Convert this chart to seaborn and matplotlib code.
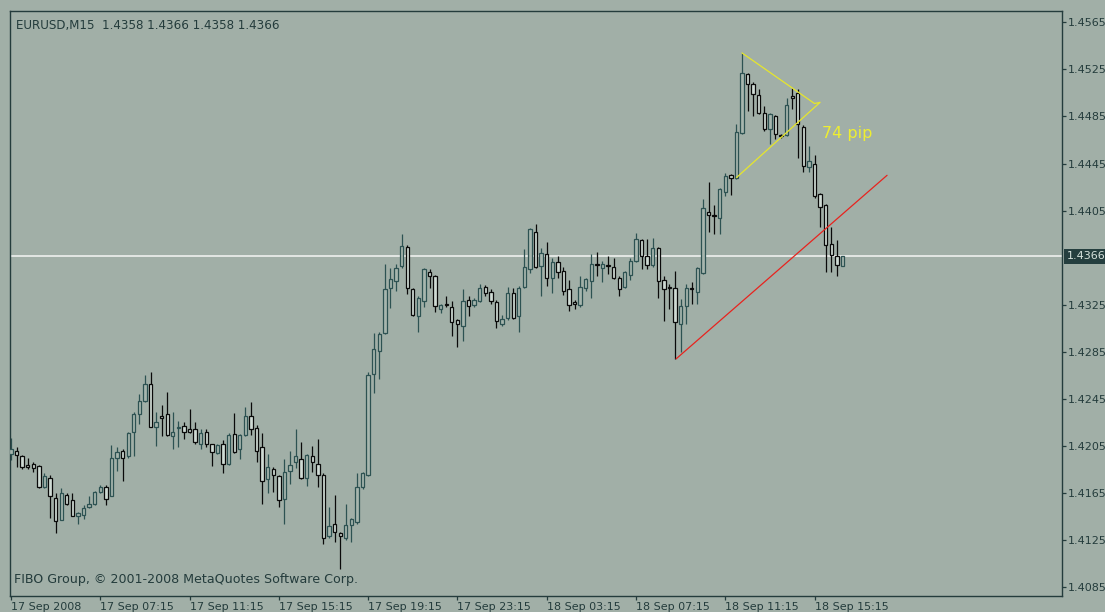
import numpy as np
import pandas as pd
import matplotlib
matplotlib.use("Agg")
import matplotlib.pyplot as plt
import matplotlib.transforms as mtransforms
import seaborn as sns

# EURUSD M15, 17 Sep 2008 03:15 -> 18 Sep 2008 16:30
header_text = "EURUSD,M15  1.4358 1.4366 1.4358 1.4366"
footer_text = "FIBO Group, \u00a9 2001-2008 MetaQuotes Software Corp."

opens = [
    1.4198, 1.4201, 1.4196, 1.4189, 1.4190, 1.4188, 1.4170, 1.4178, 1.4161, 1.4142,
    1.4163, 1.4159, 1.4145, 1.4146, 1.4153, 1.4156, 1.4166, 1.4170, 1.4162, 1.4195,
    1.4201, 1.4196, 1.4217, 1.4232, 1.4243, 1.4258, 1.4221, 1.4230, 1.4232, 1.4213,
    1.4220, 1.4222, 1.4219, 1.4219, 1.4207, 1.4217, 1.4207, 1.4199, 1.4207, 1.4190,
    1.4215, 1.4202, 1.4214, 1.4230, 1.4220, 1.4204, 1.4177, 1.4185, 1.4179, 1.4160,
    1.4184, 1.4191, 1.4194, 1.4178, 1.4196, 1.4190, 1.4180, 1.4128, 1.4139, 1.4131,
    1.4127, 1.4138, 1.4140, 1.4170, 1.4180, 1.4266, 1.4286, 1.4301, 1.4339, 1.4345,
    1.4358, 1.4374, 1.4338, 1.4315, 1.4328, 1.4353, 1.4349, 1.4321, 1.4326, 1.4323,
    1.4312, 1.4307, 1.4329, 1.4325, 1.4328, 1.4340, 1.4336, 1.4327, 1.4309, 1.4314,
    1.4335, 1.4315, 1.4340, 1.4355, 1.4387, 1.4358, 1.4368, 1.4348, 1.4361, 1.4354,
    1.4338, 1.4327, 1.4325, 1.4339, 1.4345, 1.4360, 1.4356, 1.4359, 1.4357, 1.4348,
    1.4340, 1.4350, 1.4362, 1.4380, 1.4366, 1.4359, 1.4373, 1.4346, 1.4340, 1.4339,
    1.4309, 1.4324, 1.4339, 1.4336, 1.4352, 1.4404, 1.4401, 1.4399, 1.4421, 1.4435,
    1.4433, 1.4471, 1.4521, 1.4513, 1.4503, 1.4488, 1.4474, 1.4485, 1.4469, 1.4469,
    1.4502, 1.4505, 1.4476, 1.4442, 1.4445, 1.4419, 1.4410, 1.4377, 1.4366, 1.4358,
]
highs = [
    1.4212, 1.4204, 1.4197, 1.4195, 1.4191, 1.4189, 1.4182, 1.4180, 1.4165, 1.4169,
    1.4165, 1.4165, 1.4149, 1.4155, 1.4162, 1.4167, 1.4172, 1.4172, 1.4206, 1.4204,
    1.4202, 1.4217, 1.4234, 1.4249, 1.4265, 1.4268, 1.4234, 1.4240, 1.4251, 1.4234,
    1.4226, 1.4225, 1.4236, 1.4225, 1.4219, 1.4219, 1.4207, 1.4207, 1.4210, 1.4216,
    1.4233, 1.4215, 1.4238, 1.4242, 1.4223, 1.4216, 1.4198, 1.4187, 1.4180, 1.4194,
    1.4201, 1.4219, 1.4208, 1.4198, 1.4205, 1.4211, 1.4182, 1.4153, 1.4163, 1.4132,
    1.4156, 1.4144, 1.4182, 1.4183, 1.4268, 1.4301, 1.4302, 1.4360, 1.4356, 1.4360,
    1.4385, 1.4376, 1.4339, 1.4332, 1.4356, 1.4355, 1.4350, 1.4326, 1.4332, 1.4328,
    1.4313, 1.4338, 1.4332, 1.4331, 1.4343, 1.4342, 1.4338, 1.4329, 1.4316, 1.4340,
    1.4339, 1.4341, 1.4372, 1.4390, 1.4394, 1.4373, 1.4378, 1.4365, 1.4366, 1.4357,
    1.4346, 1.4329, 1.4349, 1.4348, 1.4368, 1.4370, 1.4362, 1.4366, 1.4365, 1.4349,
    1.4354, 1.4365, 1.4386, 1.4381, 1.4381, 1.4382, 1.4374, 1.4349, 1.4343, 1.4354,
    1.4330, 1.4343, 1.4344, 1.4357, 1.4415, 1.4429, 1.4410, 1.4424, 1.4437, 1.4436,
    1.4479, 1.4539, 1.4522, 1.4514, 1.4508, 1.4494, 1.4488, 1.4486, 1.4470, 1.4501,
    1.4509, 1.4508, 1.4478, 1.4460, 1.4452, 1.4420, 1.4411, 1.4391, 1.4380, 1.4366,
]
lows = [
    1.4193, 1.4187, 1.4185, 1.4185, 1.4183, 1.4169, 1.4169, 1.4144, 1.4131, 1.4142,
    1.4155, 1.4145, 1.4139, 1.4143, 1.4152, 1.4155, 1.4165, 1.4155, 1.4162, 1.4184,
    1.4175, 1.4195, 1.4196, 1.4224, 1.4242, 1.4221, 1.4205, 1.4213, 1.4213, 1.4202,
    1.4204, 1.4211, 1.4216, 1.4207, 1.4202, 1.4204, 1.4188, 1.4198, 1.4182, 1.4189,
    1.4199, 1.4194, 1.4213, 1.4214, 1.4191, 1.4156, 1.4165, 1.4166, 1.4153, 1.4139,
    1.4173, 1.4186, 1.4177, 1.4171, 1.4183, 1.4170, 1.4122, 1.4127, 1.4123, 1.4100,
    1.4125, 1.4123, 1.4139, 1.4168, 1.4179, 1.4250, 1.4262, 1.4300, 1.4322, 1.4337,
    1.4356, 1.4334, 1.4315, 1.4302, 1.4323, 1.4339, 1.4319, 1.4318, 1.4323, 1.4298,
    1.4289, 1.4294, 1.4315, 1.4323, 1.4327, 1.4332, 1.4326, 1.4305, 1.4307, 1.4312,
    1.4313, 1.4302, 1.4339, 1.4352, 1.4356, 1.4332, 1.4341, 1.4335, 1.4348, 1.4333,
    1.4320, 1.4321, 1.4323, 1.4337, 1.4331, 1.4349, 1.4344, 1.4351, 1.4347, 1.4332,
    1.4339, 1.4346, 1.4361, 1.4355, 1.4355, 1.4357, 1.4331, 1.4311, 1.4321, 1.4279,
    1.4285, 1.4309, 1.4326, 1.4326, 1.4351, 1.4387, 1.4385, 1.4385, 1.4417, 1.4418,
    1.4432, 1.4470, 1.4490, 1.4485, 1.4487, 1.4473, 1.4462, 1.4466, 1.4467, 1.4468,
    1.4491, 1.4450, 1.4438, 1.4438, 1.4416, 1.4391, 1.4353, 1.4353, 1.4349, 1.4358,
]
closes = [
    1.4202, 1.4197, 1.4187, 1.4187, 1.4186, 1.4170, 1.4179, 1.4162, 1.4141, 1.4165,
    1.4156, 1.4145, 1.4148, 1.4152, 1.4156, 1.4166, 1.4170, 1.4160, 1.4195, 1.4200,
    1.4195, 1.4216, 1.4232, 1.4243, 1.4258, 1.4221, 1.4225, 1.4229, 1.4214, 1.4217,
    1.4221, 1.4217, 1.4217, 1.4208, 1.4216, 1.4207, 1.4200, 1.4206, 1.4190, 1.4214,
    1.4200, 1.4214, 1.4230, 1.4219, 1.4201, 1.4175, 1.4187, 1.4180, 1.4159, 1.4183,
    1.4189, 1.4196, 1.4178, 1.4197, 1.4191, 1.4180, 1.4127, 1.4137, 1.4132, 1.4128,
    1.4138, 1.4143, 1.4170, 1.4182, 1.4265, 1.4287, 1.4300, 1.4338, 1.4347, 1.4356,
    1.4375, 1.4339, 1.4316, 1.4331, 1.4355, 1.4349, 1.4324, 1.4325, 1.4325, 1.4310,
    1.4309, 1.4328, 1.4324, 1.4329, 1.4339, 1.4335, 1.4328, 1.4311, 1.4313, 1.4335,
    1.4314, 1.4339, 1.4357, 1.4389, 1.4357, 1.4369, 1.4348, 1.4361, 1.4353, 1.4337,
    1.4325, 1.4326, 1.4340, 1.4347, 1.4360, 1.4359, 1.4360, 1.4358, 1.4348, 1.4338,
    1.4353, 1.4362, 1.4381, 1.4366, 1.4359, 1.4373, 1.4345, 1.4338, 1.4339, 1.4310,
    1.4324, 1.4339, 1.4338, 1.4356, 1.4407, 1.4401, 1.4400, 1.4423, 1.4434, 1.4433,
    1.4472, 1.4522, 1.4513, 1.4504, 1.4488, 1.4474, 1.4487, 1.4470, 1.4468, 1.4495,
    1.4501, 1.4479, 1.4443, 1.4447, 1.4417, 1.4408, 1.4376, 1.4367, 1.4359, 1.4366,
]

time_labels = ["17 Sep 2008", "17 Sep 07:15", "17 Sep 11:15", "17 Sep 15:15",
               "17 Sep 19:15", "17 Sep 23:15", "18 Sep 03:15", "18 Sep 07:15",
               "18 Sep 11:15", "18 Sep 15:15"]
bars_per_label = 16
price_ticks = [1.4085, 1.4125, 1.4165, 1.4205, 1.4245, 1.4285, 1.4325,
               1.4405, 1.4445, 1.4485, 1.4525, 1.4565]
last_price = 1.4366

# hand drawn objects: (bar index, price)
pennant_bars = [131, 144, 145, 130]
pennant_prices = [1.4539, 1.4496, 1.4497, 1.4433]
trend_bars = [119.2, 157]
trend_prices = [1.4279, 1.4435]
pip_label = "74 pip"
pip_label_pos = (145.4, 1.4467)

BG = "#a1afa7"
DARK = "#243c3c"
BULL = "#2d5252"
BEAR = "#0a0a0a"
BULL_FILL = "#a7b6ae"
BEAR_FILL = "#cfdbd4"

sns.set_theme(style="ticks", rc={"axes.facecolor": BG, "figure.facecolor": BG})
plt.rcParams["font.family"] = ["DejaVu Sans"]

candles = pd.DataFrame({"open": opens, "high": highs, "low": lows, "close": closes})
candles["bar"] = np.arange(len(candles))
candles["bull"] = candles["close"] > candles["open"]
edge = np.where(candles["bull"], BULL, BEAR)
fill = np.where(candles["bull"], BULL_FILL, BEAR_FILL)
body_low = candles[["open", "close"]].min(axis=1)
body_h = (candles["close"] - candles["open"]).abs().clip(lower=0.00002)

fig = plt.figure(figsize=(11.05, 6.12), dpi=100)
ax = fig.add_axes([10 / 1105, 16 / 612, 1052 / 1105, 585 / 612])

ax.axhline(last_price, color="#eef1ee", linewidth=1.2, zorder=1)
ax.vlines(candles["bar"], candles["low"], candles["high"], colors=edge,
          linewidth=0.9, zorder=2)
ax.bar(candles["bar"], body_h, bottom=body_low, width=0.6, color=fill,
       edgecolor=edge, linewidth=0.9, zorder=3)

sns.lineplot(x=pennant_bars, y=pennant_prices, sort=False, estimator=None,
             color="#e6e62c", linewidth=0.9, ax=ax, zorder=4)
sns.lineplot(x=trend_bars, y=trend_prices, sort=False, estimator=None,
             color="#e8231e", linewidth=0.9, ax=ax, zorder=4)
ax.text(pip_label_pos[0], pip_label_pos[1], pip_label, color="#eeee30",
        fontsize=11.5, ha="left", va="baseline", zorder=5)

ax.set_xlim(-0.18, 188.35)
ax.set_ylim(1.40774, 1.457465)

ax.yaxis.tick_right()
ax.set_yticks(price_ticks)
ax.set_yticklabels([f"{p:.4f}" for p in price_ticks])
ax.set_xticks(np.arange(len(time_labels)) * bars_per_label)
ax.set_xticklabels(time_labels, ha="left")
ax.tick_params(axis="y", direction="out", length=3, width=0.9, colors=DARK,
               labelsize=8, pad=1.5)
ax.tick_params(axis="x", direction="out", length=3, width=0.9, colors=DARK,
               labelsize=8, pad=1)
ax.set_xlabel("")
ax.set_ylabel("")
for side in ["left", "right", "top", "bottom"]:
    ax.spines[side].set_visible(True)
    ax.spines[side].set_color(DARK)
    ax.spines[side].set_linewidth(1)

# current price box on the scale
box_tr = mtransforms.blended_transform_factory(ax.transAxes, ax.transData)
ax.text(1.0 + 5 / 1052, last_price, f"{last_price:.4f}", transform=box_tr,
        ha="left", va="center", fontsize=8, color="#d6e2dc", clip_on=False,
        bbox=dict(boxstyle="square,pad=0.25", facecolor="#253f3f", edgecolor="none"),
        zorder=6)

fig.text(16 / 1105, 1 - 25 / 612, header_text, fontsize=8.6, color=DARK,
         ha="left", va="center")
fig.text(14 / 1105, 1 - 580 / 612, footer_text, fontsize=9.1, color=DARK,
         ha="left", va="center")

fig.savefig("out.png", dpi=100, facecolor=BG)
